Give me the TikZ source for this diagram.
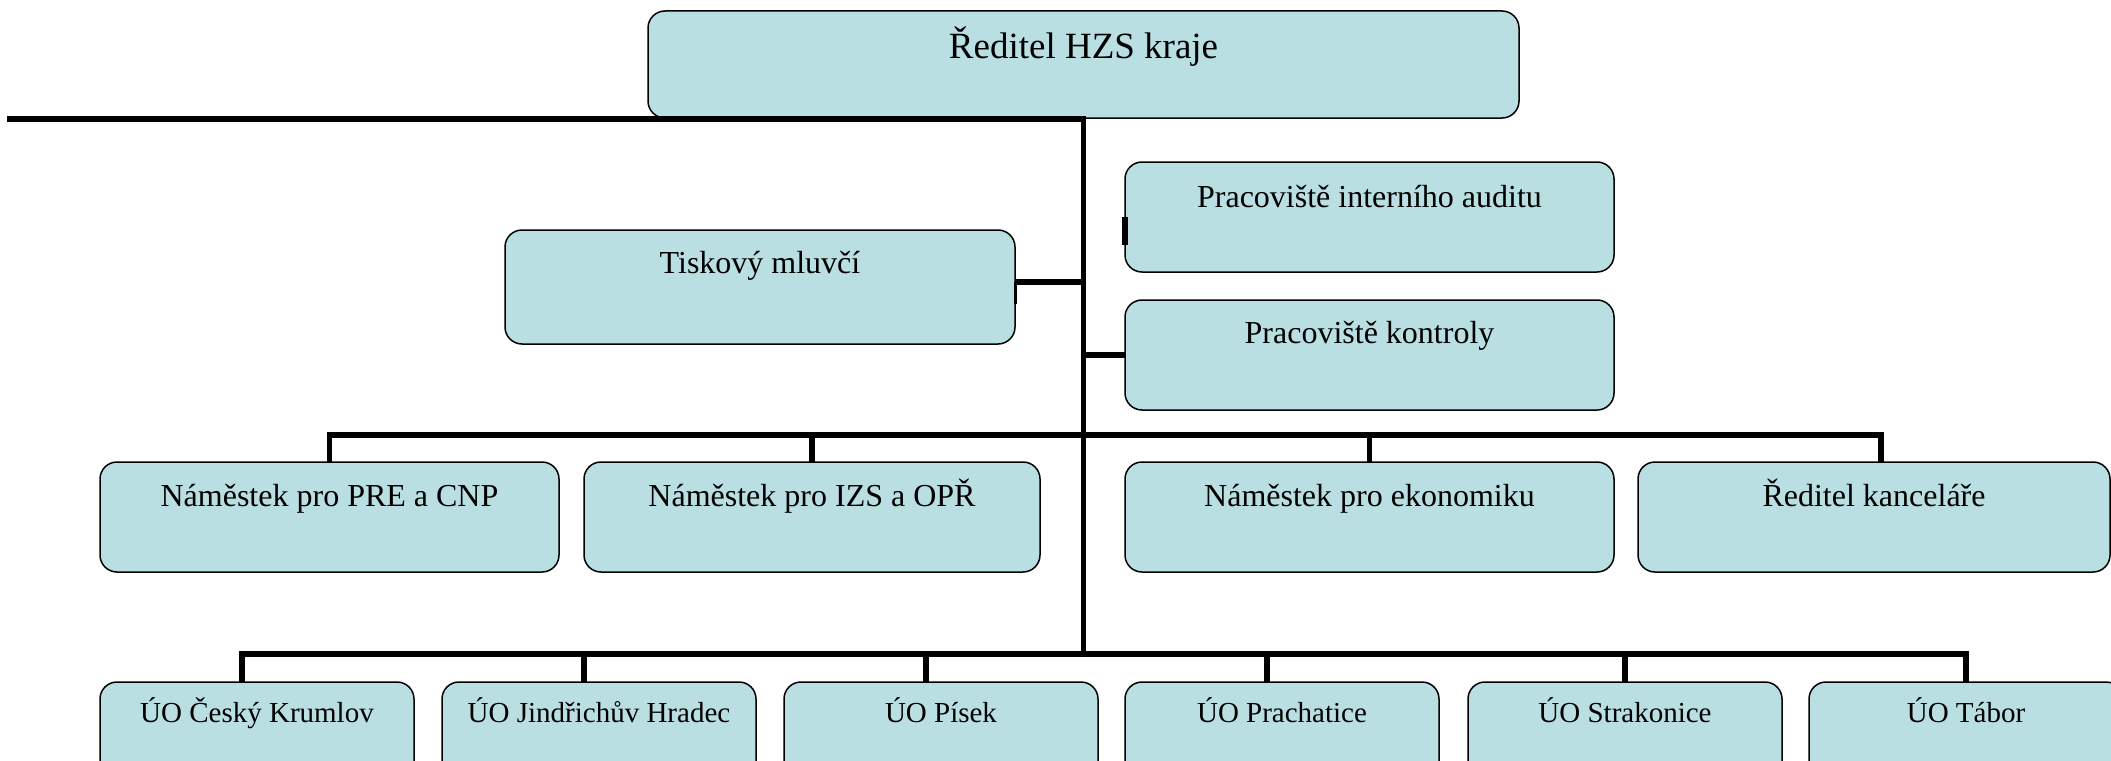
\documentclass[tikz,border=0pt]{standalone}
\usepackage{fontspec}
\setmainfont{Liberation Serif}
\usetikzlibrary{positioning,calc}
\definecolor{boxcol}{HTML}{B9DFE3}

\begin{document}
\begin{tikzpicture}[x=1pt, y=-1pt,
  role/.style={draw, line width=1.5pt, fill=boxcol, rounded corners=17pt, inner sep=0pt,
               outer sep=0pt, anchor=north west, text=black},
  headfont/.style={font=\fontsize{37}{44}\selectfont},
  midfont/.style={font=\fontsize{32}{38}\selectfont, text height=44pt, text depth=66pt},
  lowfont/.style={font=\fontsize{29}{35}\selectfont, text height=40pt, text depth=70pt,
                  minimum width=314pt},
  link/.style={line width=5.5pt}]
  \useasboundingbox (0,0) rectangle (2111,760);
  \clip (0,0) rectangle (2111,760);
  % top and staff posts
  \node[role, headfont, minimum width=871pt, text height=48pt, text depth=59pt] (head) at (648,11) {Ředitel HZS kraje};
  \node[role, midfont, minimum width=510pt, text height=43pt, text depth=71pt] (press) at (505,230) {Tiskový mluvčí};
  \node[role, midfont, minimum width=489pt, text height=45pt, text depth=65pt] (audit) at (1125,162) {Pracoviště interního auditu};
  \node[role, midfont, minimum width=489pt, text height=43pt, text depth=67pt] (control) at (1125,300) {Pracoviště kontroly};
  % deputies
  \node[role, midfont, minimum width=459pt] (dep1) at (100,462) {Náměstek pro PRE a CNP};
  \node[role, midfont, minimum width=456pt] (dep2) at (584,462) {Náměstek pro IZS a OPŘ};
  \node[role, midfont, minimum width=489pt] (dep3) at (1125,462) {Náměstek pro ekonomiku};
  \node[role, midfont, minimum width=472pt] (dep4) at (1638,462) {Ředitel kanceláře};
  % territorial units
  \node[role, lowfont] (uo1) at (100,682) {ÚO Český Krumlov};
  \node[role, lowfont] (uo2) at (442,682) {ÚO Jindřichův Hradec};
  \node[role, lowfont] (uo3) at (784,682) {ÚO Písek};
  \node[role, lowfont] (uo4) at (1125,682) {ÚO Prachatice};
  \node[role, lowfont] (uo5) at (1468,682) {ÚO Strakonice};
  \node[role, lowfont] (uo6) at (1809,682) {ÚO Tábor};

  \coordinate (tail) at (7,119);
  \coordinate (row1) at (0,435);
  \coordinate (row2) at (0,654);
  \coordinate (pressin) at ([yshift=5pt]press.east);
  \draw[link] (tail) -- (tail -| head.south) -- (head.south |- row2);
  \draw[link] (head.south |- pressin) -- (pressin);
  \draw[line width=3pt] (pressin) -- ++(0,22);
  \draw[link] (audit.west) -- ++(0,28);
  \draw[link] (head.south |- control.west) -- (control.west);
  \draw[link] (dep1.north) -- (dep1.north |- row1) -- ($(dep4.north |- row1)+(7,0)$) -- ($(dep4.north)+(7,0)$);
  \draw[link] (dep2.north) -- (dep2.north |- row1);
  \draw[link] (dep3.north) -- (dep3.north |- row1);
  \draw[link] ($(uo1.north)+(-15,0)$) -- ($(uo1.north |- row2)+(-15,0)$) -- (uo6.north |- row2) -- (uo6.north);
  \foreach \n/\dx in {uo2/-15,uo3/-15,uo4/-15,uo5/0}
    \draw[link] ($(\n.north)+(\dx,0)$) -- ($(\n.north |- row2)+(\dx,0)$);
\end{tikzpicture}
\end{document}
